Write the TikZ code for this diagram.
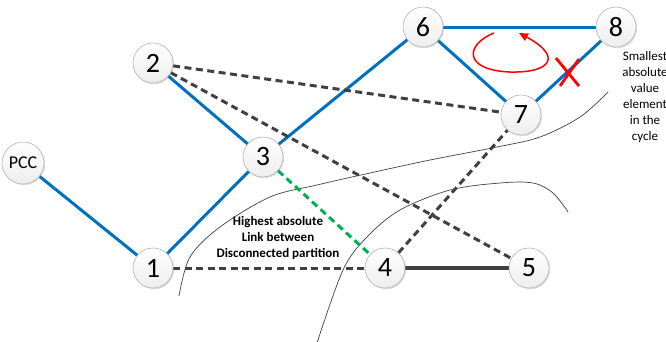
\documentclass[tikz,border=0pt]{standalone}
\usepackage{fontspec}
\setmainfont{Carlito}
\usetikzlibrary{shadows,arrows.meta}
\pgfdeclarelayer{background}
\pgfsetlayers{background,main}
\definecolor{eblue}{HTML}{0070C0}
\definecolor{edark}{HTML}{404040}
\definecolor{egreen}{HTML}{00B050}
\tikzset{
  bus/.style={circle, minimum size=40pt, inner sep=0pt, top color=white, bottom color=gray!14,
    draw=gray!60, line width=0.6pt,
    drop shadow={shadow xshift=1.2pt, shadow yshift=-1.2pt, opacity=0.25},
    font=\fontsize{28}{30}\selectfont},
  pccbus/.style={bus, minimum size=42pt, font=\fontsize{18}{20}\selectfont},
  tree/.style={draw=eblue, line width=3pt},
  cotree/.style={draw=edark, line width=3pt, dash pattern=on 7pt off 4.5pt},
  best/.style={draw=egreen, line width=3pt, dash pattern=on 7pt off 4.5pt},
  solidlink/.style={draw=edark, line width=3.5pt},
  border/.style={draw=black!75, line width=0.7pt},
  note/.style={align=center, font=\fontsize{13}{16}\selectfont},
}
\begin{document}
\begin{tikzpicture}[x=1pt,y=-1pt]
\useasboundingbox (0,0) rectangle (666,341);
\node[pccbus] (pcc) at (23,163) {PCC};
\node[bus] (n1) at (153,268) {1};
\node[bus] (n2) at (153,63) {2};
\node[bus] (n3) at (263,157) {3};
\node[bus] (n4) at (385,268) {4};
\node[bus] (n5) at (529,268) {5};
\node[bus] (n6) at (423,27) {6};
\node[bus] (n7) at (521,115) {7};
\node[bus] (n8) at (616,27) {8};
\begin{pgfonlayer}{background}
\draw[border] plot[smooth, tension=0.55] coordinates {(179,296) (190,257) (220,227) (270,197) (317,185) (370,173) (430,160) (497,147) (540,137) (580,117) (608,92)};
\draw[border] plot[smooth, tension=0.55] coordinates {(317,343) (343,270) (367,237) (400,210) (450,190) (500,183) (533,183) (553,193) (568,212)};
\draw[tree] (pcc) -- (n1);
\draw[tree] (n1) -- (n3);
\draw[tree] (n2) -- (n3);
\draw[tree] (n3) -- (n6);
\draw[tree] (n6) -- (n8);
\draw[tree] (n6) -- (n7);
\draw[tree] (n7) -- (n8);
\draw[cotree] (n2) -- (n7);
\draw[cotree] (n2) -- (n5);
\draw[cotree] (n1) -- (n4);
\draw[cotree] (n4) -- (n7);
\draw[best] (n3) -- (n4);
\draw[solidlink] (n4) -- (n5);
\end{pgfonlayer}
\draw[red, line width=1.5pt, -{Triangle[length=9pt,width=8pt]}]
  (494,33) .. controls (466,44) and (462,70) .. (510,72)
  .. controls (552,73) and (562,56) .. (519,33);
\draw[red, line width=2.8pt] (556,58) -- (579,86) (579,59) -- (560,86);
\node[note] (cyc) at (645,97) {Smallest\\absolute\\value\\element\\in the\\cycle};
\node[note, font=\bfseries\fontsize{13}{16}\selectfont] (hl) at (278,238) {Highest absolute\\Link between\\Disconnected partition};
\end{tikzpicture}
\end{document}
